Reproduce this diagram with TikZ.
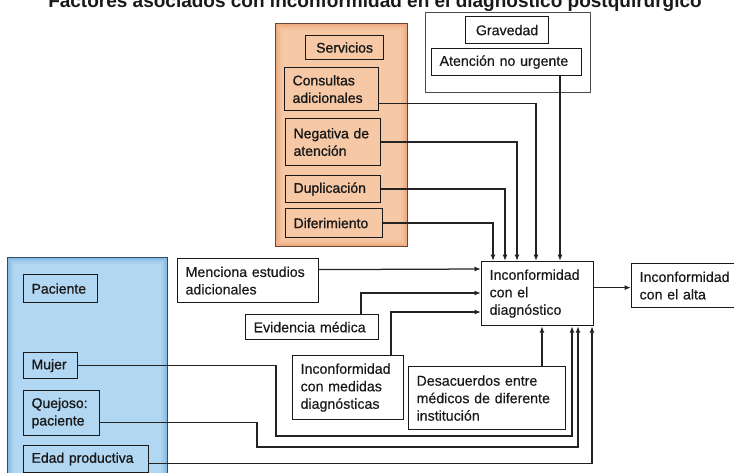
\documentclass[tikz,border=0pt]{standalone}
\usepackage{fontspec}
\setmainfont{Liberation Sans}
\newfontfamily\bodyfont[FakeBold=0.35]{Liberation Sans}
\newfontfamily\panelfont[FakeBold=1.1]{Liberation Sans}
\usetikzlibrary{arrows.meta}
\definecolor{ink}{RGB}{25,25,25}
\definecolor{wire}{RGB}{35,35,35}
\definecolor{peach}{RGB}{246,200,166}
\definecolor{peachedge}{RGB}{234,148,98}
\definecolor{peachline}{RGB}{105,70,50}
\definecolor{sky}{RGB}{178,215,242}
\definecolor{skyedge}{RGB}{96,166,224}
\definecolor{skyline}{RGB}{50,75,100}
\begin{document}
\begin{tikzpicture}[x=1pt,y=-1pt,
  txt/.style={font=\bodyfont\fontsize{14.2}{17.5}\selectfont, text=ink},
  box/.style={txt, draw=ink, line width=1.2pt, anchor=north west,
              inner xsep=8pt, inner ysep=0pt, align=left},
  pbox/.style={box, font=\panelfont\fontsize{14}{17.5}\selectfont},
  conn/.style={draw=wire, line width=1.25pt, -{Latex[length=6.5pt,width=5pt]}},
  panel/.style={anchor=north west, inner sep=0pt, line width=1.3pt}
]
\useasboundingbox (0,0) rectangle (734,472);
\clip (0,0) rectangle (734,472);
\fill[white] (0,0) rectangle (734,472);

% title (its upper part runs off the top edge)
\node[font=\bfseries\fontsize{19}{22}\selectfont, text=ink, anchor=base] (title) at (375,7)
  {Factores asociados con inconformidad en el diagnóstico postquirúrgico};

% grouping panels
\node[panel, draw=peachline, fill=peach, minimum width=132pt, minimum height=223pt] (servpanel) at (275,23) {};
\foreach \d/\o in {2/0.5,4/0.28,6/0.12}
  \draw[peachedge, opacity=\o, line width=2pt]
    ([xshift=\d pt,yshift=-\d pt]servpanel.north west) rectangle ([xshift=-\d pt,yshift=\d pt]servpanel.south east);

\node[panel, draw=skyline, fill=sky, minimum width=160pt, minimum height=235pt] (pacpanel) at (7,257) {};
\foreach \d/\o in {2/0.5,4/0.28,6/0.12}
  \draw[skyedge, opacity=\o, line width=2pt]
    ([xshift=\d pt,yshift=-\d pt]pacpanel.north west) rectangle ([xshift=-\d pt,yshift=\d pt]pacpanel.south east);

\node[panel, draw=black!70, fill=white, minimum width=165pt, minimum height=80pt] (gravpanel) at (425,12) {};

% services
\node[pbox, align=center, text width=62pt, minimum height=24pt] (serv) at (305,35) {Servicios};
\node[pbox, text width=78pt, minimum height=43pt] (cons) at (284,67) {Consultas\\adicionales};
\node[pbox, text width=79pt, minimum height=47pt] (neg) at (285,118) {Negativa de\\atención};
\node[pbox, text width=79pt, minimum height=27pt] (dup) at (285,175) {Duplicación};
\node[pbox, text width=81pt, minimum height=29pt] (dif) at (285,208) {Diferimiento};

% severity
\node[box, align=center, text width=67pt, minimum height=27pt] (grav) at (465,16) {Gravedad};
\node[box, text width=134pt, minimum height=27pt] (aten) at (431,48) {Atención no urgente};

% middle factors
\node[box, text width=125pt, minimum height=44pt] (men) at (177,258) {Menciona estudios\\adicionales};
\node[box, text width=117pt, minimum height=25pt] (evi) at (245,314) {Evidencia médica};
\node[box, text width=95pt, minimum height=64pt] (med) at (292,355) {Inconformidad\\con medidas\\diagnósticas};
\node[box, text width=141pt, minimum height=63pt] (des) at (408,366) {Desacuerdos entre\\médicos de diferente\\institución};

% outcomes
\node[box, text width=96pt, minimum height=64pt] (main) at (481,261) {Inconformidad\\con el\\diagnóstico};
\node[box, text width=100pt, minimum height=44pt] (alta) at (631,263) {Inconformidad\\con el alta};

% patient
\node[pbox, text width=58pt, minimum height=28pt] (pac) at (23,274) {Paciente};
\node[pbox, text width=38pt, minimum height=26pt] (muj) at (23,352) {Mujer};
\node[pbox, text width=60pt, minimum height=45pt] (que) at (23,390) {Quejoso:\\paciente};
\node[pbox, text width=109pt, minimum height=27pt] (eda) at (23,445) {Edad productiva};

% turning points of the long patient connectors
\coordinate (mujturn) at (276,436);
\coordinate (queturn) at (257,447);

% connectors from above
\draw[conn] ([yshift=-14.5pt]cons.east) -| ([xshift=55pt]main.north west);
\draw[conn] (neg.east) -| ([xshift=36pt]main.north west);
\draw[conn] (dup.east) -| ([xshift=24pt]main.north west);
\draw[conn] (dif.east) -| ([xshift=12pt]main.north west);
\draw[conn] ([xshift=129pt]aten.south west) -- ([xshift=79pt]main.north west);

% connectors from the left
\draw[conn] ([yshift=11pt]men.east) -- ([yshift=-8pt]main.north west);
\draw[conn] ([xshift=116pt]evi.north west) |- ([yshift=-32pt]main.north west);
\draw[conn] ([xshift=99pt]med.north west) |- ([yshift=-51pt]main.north west);

% connectors from below
\draw[conn] ([xshift=134pt]des.north west) -- ([xshift=61pt]main.south west);
\draw[conn] (muj.east) -| (mujturn) -| ([xshift=91pt]main.south west);
\draw[conn] ([yshift=-9.5pt]que.east) -| (queturn) -| ([xshift=97pt]main.south west);
\draw[conn] ([yshift=-4.5pt]eda.east) -| ([xshift=111pt]main.south west);

% outcome link
\draw[conn] ([yshift=6pt]main.east) -- ([yshift=-2pt]alta.west);
\end{tikzpicture}
\end{document}
